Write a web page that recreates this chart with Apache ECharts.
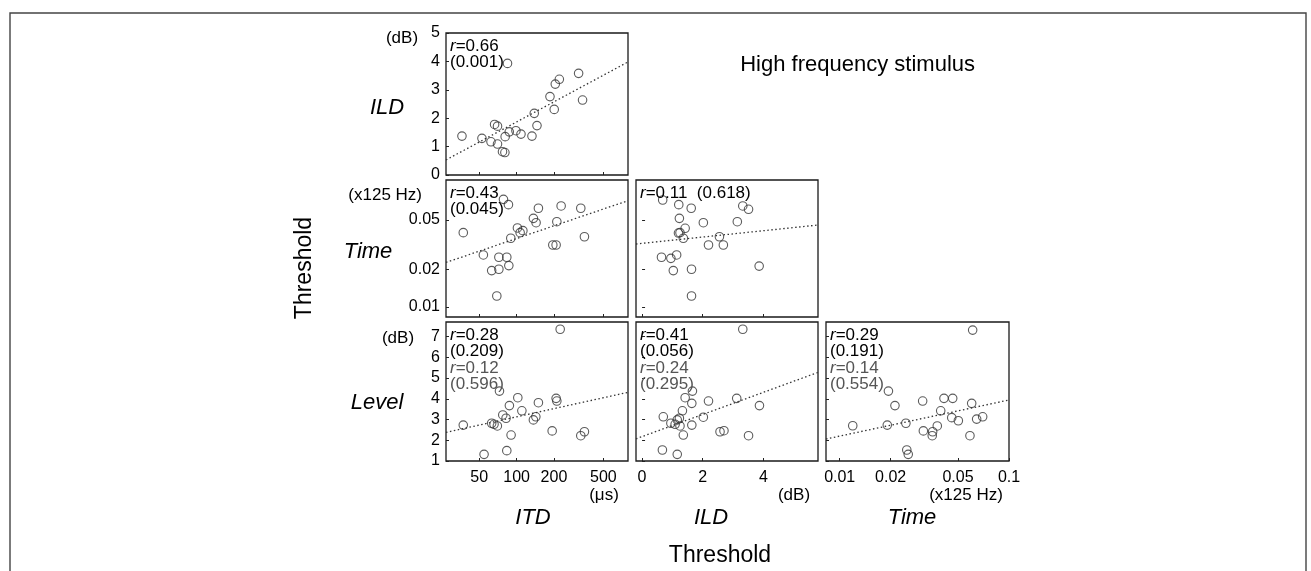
<!DOCTYPE html>
<html>
<head>
<meta charset="utf-8">
<script src="https://cdn.jsdelivr.net/npm/echarts@6/dist/echarts.min.js"></script>
<style>html,body{margin:0;padding:0;background:#fff;}#c{width:1311px;height:571px;}</style>
</head>
<body>
<div id="c"></div>
<script>
// ---- tick labels ----
const itdTicks = [50, 100, 200, 500];
const ildXTicks = [0, 2, 4];
const timeXTicks = [0.01, 0.02, 0.05, 0.1];
const timeYTicks = [0.01, 0.02, 0.05];
const ildYTicks = [0, 1, 2, 3, 4, 5];
const levelTicks = [1, 2, 3, 4, 5, 6, 7];

// ---- data: [x, y] per panel ----
// ILD threshold (dB) vs ITD threshold (us)
const itd_ild = [[36.3,1.37],[52.6,1.29],[62.2,1.17],[66.5,1.78],[70.2,1.72],[70.2,1.09],[77,0.82],[80.5,0.79],
  [80.9,1.35],[87.3,1.52],[98.8,1.56],[108.5,1.44],[133,1.37],[138.8,2.17],[146,1.74],[185.8,2.76],
  [201,2.31],[205,3.2],[221,3.37],[316,3.58],[340,2.64],[84.5,3.93]];
const itd_ild_fit = [[27,0.53],[790,3.98]];
// Time threshold (x125 Hz) vs ITD threshold
const itd_time = [[37.2,0.0396],[54,0.0262],[63,0.0196],[72,0.0201],[72,0.0251],[83.4,0.0251],[86.6,0.0215],
  [69.3,0.01225],[78.4,0.0734],[86,0.0665],[89.8,0.0357],[101.6,0.0432],[106.8,0.0396],[112.4,0.0411],
  [136.6,0.0516],[143.6,0.0476],[149.9,0.0622],[195.8,0.0315],[208.2,0.0315],[211,0.0485],[228.5,0.0649],
  [329,0.0622],[352,0.0367]];
const itd_time_fit = [[27,0.0228],[790,0.0716]];
// Time threshold vs ILD threshold
const ild_time = [[0.68,0.0725],[1.21,0.0665],[1.62,0.0622],[1.23,0.0516],[2.02,0.0476],[3.32,0.0649],
  [3.51,0.061],[3.14,0.0485],[1.42,0.0429],[1.25,0.0396],[1.36,0.0357],[2.55,0.0367],[2.19,0.0315],
  [2.68,0.0315],[0.64,0.0251],[0.95,0.0246],[1.14,0.0262],[1.03,0.0196],[1.63,0.0201],[3.86,0.0213],
  [1.63,0.01225],[1.2,0.0393]];
const ild_time_fit = [[-0.2,0.0321],[5.8,0.0456]];
// Level threshold (dB) vs ITD threshold
const itd_level = [[37.2,2.73],[54.7,1.32],[65.8,2.77],[70,2.69],[72.8,4.37],[77.4,3.22],[82.3,3.06],
  [87.5,3.67],[83.4,1.5],[90.3,2.25],[102.3,4.05],[110.3,3.42],[136.6,2.98],[142.9,3.13],[149.9,3.81],
  [193.5,2.45],[208.2,4.02],[211,3.89],[224.5,7.35],[329,2.22],[352,2.41],[63,2.82]];
const itd_level_fit = [[27,2.38],[790,4.31]];
// Level threshold vs ILD threshold
const ild_level = [[3.32,7.35],[1.66,4.37],[1.42,4.05],[1.64,3.78],[2.19,3.89],[3.12,4.02],[3.87,3.67],
  [1.33,3.42],[0.70,3.13],[1.23,3.06],[2.02,3.11],[0.95,2.82],[1.09,2.77],[1.25,2.69],[1.64,2.73],
  [2.57,2.41],[2.70,2.46],[1.36,2.25],[3.51,2.22],[0.67,1.53],[1.16,1.32],[1.16,2.98]];
const ild_level_fit = [[-0.2,2.07],[5.8,5.27]];
// Level threshold vs Time threshold
const time_level = [[0.061,7.31],[0.0194,4.37],[0.0212,3.67],[0.0309,3.89],[0.0413,4.02],[0.0465,4.02],
  [0.0602,3.78],[0.0395,3.42],[0.0459,3.09],[0.0502,2.94],[0.0644,3.02],[0.0699,3.13],[0.01194,2.70],
  [0.0191,2.73],[0.0246,2.82],[0.0377,2.69],[0.0312,2.45],[0.0354,2.41],[0.0352,2.22],[0.0588,2.22],
  [0.0249,1.53],[0.0254,1.32]];
const time_level_fit = [[0.0083,2.06],[0.1,3.94]];

// ---- annotations ----
const notes = [
  {g:0, lines:[['r','=0.66',0],['','(0.001)',0]]},
  {g:1, lines:[['r','=0.43',0],['','(0.045)',0]]},
  {g:2, lines:[['r','=0.11  (0.618)',0]]},
  {g:3, lines:[['r','=0.28',0],['','(0.209)',0],['r','=0.12',1],['','(0.596)',1]]},
  {g:4, lines:[['r','=0.41',0],['','(0.056)',0],['r','=0.24',1],['','(0.295)',1]]},
  {g:5, lines:[['r','=0.29',0],['','(0.191)',0],['r','=0.14',1],['','(0.554)',1]]}
];

const FONT = '"Liberation Sans", Arial, Helvetica, sans-serif';
const grids = [
  [446, 33, 182, 142],
  [446, 180, 182, 137],
  [636, 180, 182, 137],
  [446, 322, 182, 139],
  [636, 322, 182, 139],
  [826, 322, 183, 139]
];

function gridOpt(g) {
  return {left: g[0], top: g[1], width: g[2], height: g[3], show: true,
    borderColor: '#1a1a1a', borderWidth: 1.3, backgroundColor: 'transparent'};
}
function axisOpt(gi, kind, showLabel) {
  const base = {
    gridIndex: gi,
    axisLine: {show: false},
    splitLine: {show: false},
    axisTick: {show: true, inside: true, length: 3, lineStyle: {color: '#222', width: 1}},
    axisLabel: {show: showLabel, fontSize: 16, color: '#000', fontFamily: FONT, margin: 7,
      showMinLabel: true, showMaxLabel: true}
  };
  let ticks;
  if (kind === 'itd') { Object.assign(base, {type: 'log', logBase: 10, min: 27, max: 790}); ticks = itdTicks; }
  if (kind === 'ildx') { Object.assign(base, {type: 'value', min: -0.2, max: 5.8}); ticks = ildXTicks; }
  if (kind === 'timex') { Object.assign(base, {type: 'log', logBase: 10, min: 0.0083, max: 0.1}); ticks = timeXTicks; }
  if (kind === 'ildy') { Object.assign(base, {type: 'value', min: 0, max: 5, interval: 1}); ticks = ildYTicks; }
  if (kind === 'timey') { Object.assign(base, {type: 'log', logBase: 10, min: 0.0083, max: 0.105}); ticks = timeYTicks; }
  if (kind === 'levely') { Object.assign(base, {type: 'value', min: 1, max: 7.7}); ticks = levelTicks; }
  base.axisTick.customValues = ticks;
  base.axisLabel.customValues = ticks;
  return base;
}

const xAxes = [axisOpt(0,'itd',false), axisOpt(1,'itd',false), axisOpt(2,'ildx',false),
  axisOpt(3,'itd',true), axisOpt(4,'ildx',true), axisOpt(5,'timex',true)];
const yAxes = [axisOpt(0,'ildy',true), axisOpt(1,'timey',true), axisOpt(2,'timey',false),
  axisOpt(3,'levely',true), axisOpt(4,'levely',false), axisOpt(5,'levely',false)];
yAxes.forEach(a => { a.axisLabel.margin = 6; });
xAxes.forEach(a => { a.axisLabel.margin = 9; });

const panels = [
  [itd_ild, itd_ild_fit], [itd_time, itd_time_fit], [ild_time, ild_time_fit],
  [itd_level, itd_level_fit], [ild_level, ild_level_fit], [time_level, time_level_fit]
];
const series = [];
panels.forEach((p, i) => {
  series.push({type: 'line', xAxisIndex: i, yAxisIndex: i, data: p[1], showSymbol: false, silent: true,
    lineStyle: {color: '#333', width: 1.3, type: [1.5, 2.5]}, z: 2});
  series.push({type: 'scatter', xAxisIndex: i, yAxisIndex: i, data: p[0], symbol: 'circle', symbolSize: 8.5,
    itemStyle: {color: 'rgba(255,255,255,0)', borderColor: '#333', borderWidth: 1.1}, z: 3});
});

function txt(x, y, text, size, opts) {
  opts = opts || {};
  return {type: 'text', x: x, y: y, rotation: opts.rot || 0, z: 100,
    style: {text: text, fill: opts.color || '#000', textAlign: opts.align || 'center',
      textVerticalAlign: 'middle', fontSize: size, fontFamily: FONT,
      fontStyle: opts.italic ? 'italic' : 'normal', rich: opts.rich}};
}

const graphics = [];
// frame
graphics.push({type: 'polyline', z: 50, shape: {points: [[10, 571], [10, 13], [1306, 13], [1306, 571]]},
  style: {stroke: '#444', lineWidth: 1.4, fill: null}});
graphics.push(txt(975, 65, 'High frequency stimulus', 22, {align: 'right'}));
graphics.push(txt(402, 38, '(dB)', 17));
graphics.push(txt(387, 108, 'ILD', 22, {italic: true}));
graphics.push(txt(422, 195, '(x125 Hz)', 17, {align: 'right'}));
graphics.push(txt(368, 252, 'Time', 22, {italic: true}));
graphics.push(txt(398, 338, '(dB)', 17));
graphics.push(txt(377, 403, 'Level', 22, {italic: true}));
graphics.push(txt(305, 268, 'Threshold', 23, {rot: Math.PI / 2}));
graphics.push(txt(604, 495, '(\u03bcs)', 17));
graphics.push(txt(794, 495, '(dB)', 17));
graphics.push(txt(966, 495, '(x125 Hz)', 17));
graphics.push(txt(533, 518, 'ITD', 22, {italic: true}));
graphics.push(txt(711, 518, 'ILD', 22, {italic: true}));
graphics.push(txt(912, 518, 'Time', 22, {italic: true}));
graphics.push(txt(720, 556, 'Threshold', 23));

notes.forEach(n => {
  const g = grids[n.g];
  const x0 = g[0] + 4;
  const y0 = g[1] + 13;
  n.lines.forEach((ln, k) => {
    const color = ln[2] ? '#555' : '#000';
    const text = (ln[0] ? '{i|' + ln[0] + '}' : '') + ln[1];
    graphics.push(txt(x0, y0 + k * 16.5, text, 17, {align: 'left', color: color,
      rich: {i: {fontStyle: 'italic', fontSize: 17, fontFamily: FONT, fill: color, color: color}}}));
  });
});

const chart = echarts.init(document.getElementById('c'), null, {renderer: 'canvas'});
chart.setOption({
  backgroundColor: '#fff',
  animation: false,
  grid: grids.map(gridOpt),
  xAxis: xAxes,
  yAxis: yAxes,
  series: series,
  graphic: graphics
});
</script>
</body>
</html>
